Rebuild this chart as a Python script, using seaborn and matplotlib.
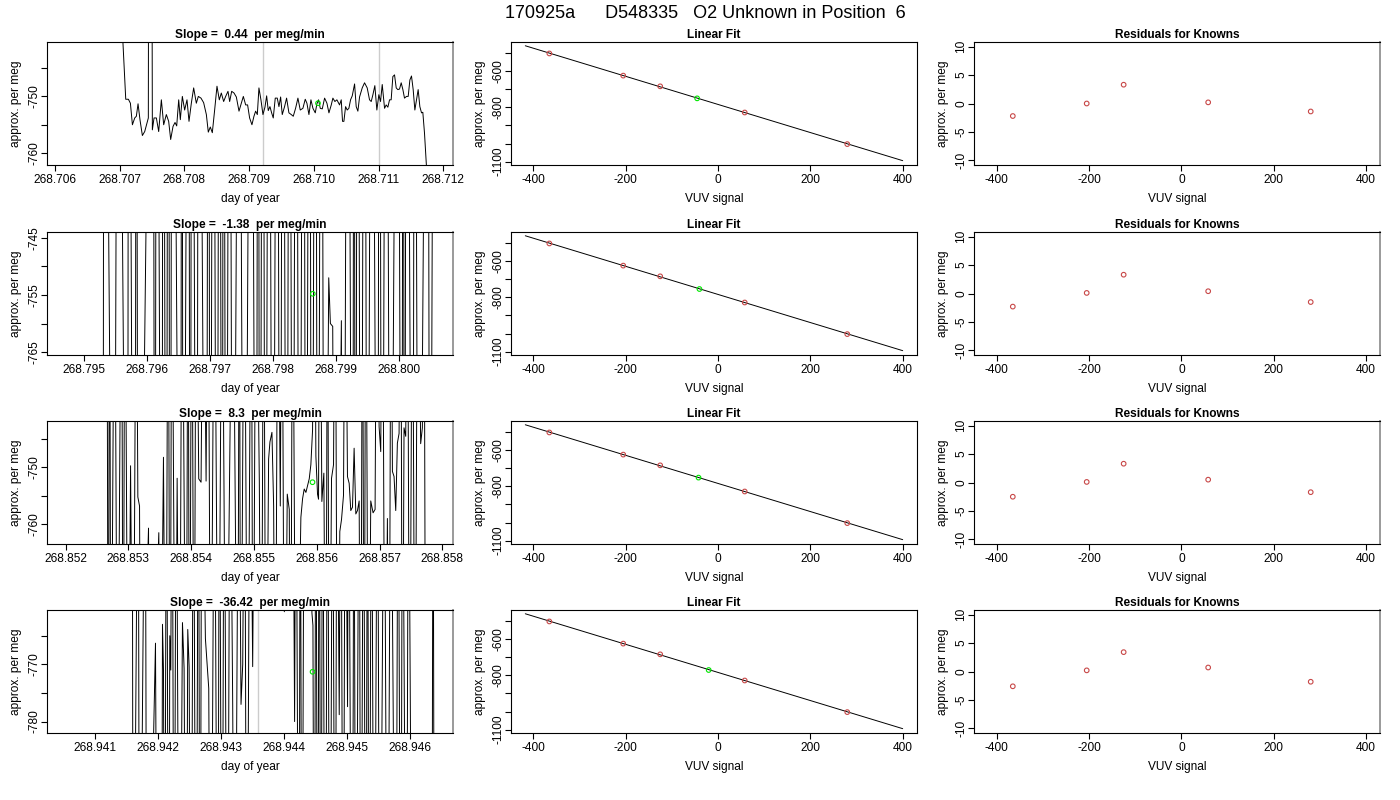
"""
Unknown-in-position diagnostic panels: raw trace, linear fit, residuals
"""

import matplotlib
matplotlib.use('Agg')
import matplotlib.pyplot as plt
import seaborn as sns

# ---------------------------------------------------------------- data
main_title = '170925a      D548335   O2 Unknown in Position  6'

slope_titles = ['Slope =  0.44  per meg/min', 'Slope =  -1.38  per meg/min',
                'Slope =  8.3  per meg/min', 'Slope =  -36.42  per meg/min']

# raw traces (day of year, approx. per meg)
t1 = [268.707029, 268.707096, 268.707137, 268.707168, 268.707199, 268.707235, 268.707260, 268.707286, 268.707317, 268.707353,
      268.707389, 268.707425, 268.707445, 268.707451, 268.707497, 268.707507, 268.707533, 268.707569, 268.707605, 268.707646,
      268.707682, 268.707723, 268.707759, 268.707790, 268.707826, 268.707857, 268.707883, 268.707914, 268.707939, 268.707970,
      268.708006, 268.708042, 268.708073, 268.708109, 268.708145, 268.708186, 268.708217, 268.708258, 268.708299, 268.708341,
      268.708371, 268.708402, 268.708433, 268.708469, 268.708505, 268.708541, 268.708572, 268.708608, 268.708639, 268.708675,
      268.708701, 268.708732, 268.708768, 268.708804, 268.708845, 268.708881, 268.708912, 268.708948, 268.708978, 268.709009,
      268.709045, 268.709076, 268.709102, 268.709128, 268.709153, 268.709184, 268.709215, 268.709246, 268.709272, 268.709297,
      268.709323, 268.709349, 268.709374, 268.709405, 268.709436, 268.709462, 268.709488, 268.709513, 268.709549, 268.709580,
      268.709616, 268.709652, 268.709683, 268.709719, 268.709755, 268.709791, 268.709832, 268.709868, 268.709894, 268.709925,
      268.709956, 268.709987, 268.710023, 268.710048, 268.710074, 268.710100, 268.710131, 268.710167, 268.710203, 268.710234,
      268.710270, 268.710295, 268.710326, 268.710357, 268.710398, 268.710424, 268.710444, 268.710465, 268.710491, 268.710516,
      268.710542, 268.710568, 268.710594, 268.710630, 268.710655, 268.710681, 268.710707, 268.710748, 268.710784, 268.710825,
      268.710861, 268.710887, 268.710913, 268.710943, 268.710974, 268.711005, 268.711031, 268.711057, 268.711093, 268.711118,
      268.711144, 268.711170, 268.711195, 268.711221, 268.711247, 268.711273, 268.711298, 268.711324, 268.711350, 268.711376,
      268.711401, 268.711432, 268.711458, 268.711484, 268.711509, 268.711535, 268.711561, 268.711586, 268.711612, 268.711638,
      268.711664, 268.711684, 268.711710, 268.711746]
v1 = [-735.0, -750.5, -750.5, -751.2, -755.0, -753.8, -753.5, -751.3, -754.2, -756.9,
      -756.2, -754.7, -753.8, -700.0, -700.0, -755.9, -753.8, -753.8, -756.2, -750.6,
      -755.0, -753.2, -754.4, -757.6, -755.3, -754.6, -755.2, -750.6, -754.1, -750.0,
      -752.4, -750.6, -754.4, -751.2, -748.5, -751.2, -750.0, -750.3, -751.1, -753.2,
      -756.3, -755.4, -756.4, -752.4, -748.2, -750.6, -749.4, -750.9, -750.0, -749.1,
      -750.9, -749.1, -749.4, -750.1, -752.6, -751.2, -750.0, -751.5, -751.5, -753.8,
      -755.0, -753.5, -752.6, -753.2, -748.5, -750.6, -753.2, -751.9, -749.9, -752.5,
      -751.8, -752.9, -753.8, -750.3, -750.3, -751.8, -750.1, -753.2, -751.8, -750.3,
      -752.9, -753.2, -753.5, -752.1, -750.3, -752.4, -752.1, -750.5, -751.2, -753.2,
      -750.6, -752.1, -752.9, -751.3, -750.6, -752.1, -752.2, -750.3, -751.2, -752.9,
      -751.5, -750.3, -750.9, -750.6, -751.5, -750.6, -754.4, -754.4, -751.8, -752.4,
      -752.1, -750.6, -749.9, -747.8, -751.8, -752.6, -750.1, -748.5, -747.6, -748.5,
      -750.6, -750.9, -749.7, -748.1, -752.4, -749.7, -750.9, -747.9, -752.1, -751.5,
      -751.9, -750.6, -750.6, -746.5, -746.2, -748.5, -748.8, -748.7, -747.6, -748.8,
      -750.3, -750.0, -750.0, -747.1, -746.4, -748.8, -752.4, -750.6, -748.8, -751.8,
      -752.9, -752.8, -756.5, -763.5]

t2 = [268.795306, 268.795322, 268.795480, 268.795543, 268.795696, 268.795712, 268.795796, 268.795823, 268.795833, 268.795865,
      268.796097, 268.796129, 268.796155, 268.796239, 268.796260, 268.796308, 268.796340, 268.796371, 268.796403, 268.796535,
      268.796556, 268.796577, 268.796661, 268.796688, 268.796714, 268.796793, 268.796820, 268.796941, 268.796978, 268.797004,
      268.797052, 268.797110, 268.797152, 268.797173, 268.797194, 268.797215, 268.797257, 268.797310, 268.797363, 268.797468,
      268.797500, 268.797547, 268.797653, 268.797732, 268.797764, 268.797790, 268.797837, 268.797880, 268.797932, 268.797996,
      268.798064, 268.798112, 268.798154, 268.798217, 268.798259, 268.798312, 268.798365, 268.798418, 268.798481, 268.798523,
      268.798576, 268.798613, 268.798671, 268.798708, 268.798766, 268.798813, 268.798882, 268.798908, 268.798945, 268.798987,
      268.799082, 268.799114, 268.799182, 268.799261, 268.799282, 268.799304, 268.799340, 268.799393, 268.799446, 268.799472,
      268.799493, 268.799562, 268.799657, 268.799683, 268.799725, 268.799789, 268.799831, 268.799852, 268.799973, 268.800037,
      268.800063, 268.800079, 268.800116, 268.800211, 268.800227, 268.800242, 268.800306, 268.800448, 268.800469, 268.800485,
      268.800553]
v2 = [-860, -640, -860, -640, -860, -640, -860, -763.8, -640, -860,
      -640, -860, -640, -860, -640, -860, -640, -860, -640, -860,
      -640, -860, -640, -860, -640, -860, -640, -860, -640, -860,
      -640, -860, -640, -757.5, -860, -640, -860, -640, -860, -640,
      -751.0, -860, -640, -860, -640, -860, -640, -860, -640, -860,
      -640, -860, -640, -860, -640, -860, -640, -860, -640, -860,
      -640, -860, -640, -860, -640, -860, -752.0, -760.0, -760.5, -860,
      -759.5, -860, -640, -860, -640, -860, -640, -860, -640, -752.5,
      -860, -640, -860, -640, -860, -640, -762.5, -860, -640, -860,
      -640, -860, -640, -860, -752.5, -640, -860, -640, -759.5, -860,
      -640]

t3 = [268.852657, 268.852678, 268.852700, 268.852721, 268.852779, 268.852806, 268.852827, 268.852890, 268.852917, 268.852943,
      268.852996, 268.853034, 268.853076, 268.853124, 268.853150, 268.853177, 268.853198, 268.853320, 268.853341, 268.853484,
      268.853505, 268.853558, 268.853595, 268.853632, 268.853664, 268.853691, 268.853749, 268.853776, 268.853813, 268.853855,
      268.853919, 268.853950, 268.853972, 268.854009, 268.854046, 268.854078, 268.854120, 268.854157, 268.854194, 268.854237,
      268.854268, 268.854311, 268.854369, 268.854433, 268.854491, 268.854555, 268.854661, 268.854740, 268.854767, 268.854788,
      268.854846, 268.854899, 268.854957, 268.854984, 268.855032, 268.855085, 268.855116, 268.855154, 268.855191, 268.855233,
      268.855254, 268.855286, 268.855313, 268.855339, 268.855381, 268.855419, 268.855445, 268.855487, 268.855530, 268.855562,
      268.855583, 268.855615, 268.855668, 268.855747, 268.855774, 268.855800, 268.855827, 268.855853, 268.855880, 268.855906,
      268.855933, 268.855959, 268.855986, 268.856012, 268.856028, 268.856049, 268.856081, 268.856113, 268.856145, 268.856171,
      268.856198, 268.856235, 268.856267, 268.856293, 268.856330, 268.856367, 268.856394, 268.856426, 268.856452, 268.856489,
      268.856516, 268.856542, 268.856569, 268.856595, 268.856622, 268.856648, 268.856675, 268.856701, 268.856728, 268.856754,
      268.856781, 268.856823, 268.856860, 268.856897, 268.856929, 268.856956, 268.856993, 268.857019, 268.857046, 268.857088,
      268.857125, 268.857152, 268.857183, 268.857205, 268.857231, 268.857258, 268.857284, 268.857311, 268.857337, 268.857364,
      268.857390, 268.857417, 268.857443, 268.857480, 268.857523, 268.857565, 268.857607, 268.857655, 268.857682, 268.857708,
      268.857735]
v3 = [-700, -810, -700, -810, -700, -761.2, -810, -700, -810, -700,
      -810, -749.7, -810, -700, -755.2, -756.8, -810, -760.7, -810, -761.5,
      -810, -748.2, -810, -700, -810, -700, -810, -751.9, -810, -700,
      -810, -700, -810, -700, -810, -700, -752.0, -752.6, -700, -752.4,
      -700, -810, -700, -810, -700, -810, -700, -810, -700, -810,
      -700, -810, -700, -810, -700, -752.5, -810, -700, -810, -748.5,
      -745.5, -743.8, -756.8, -810, -700, -756.8, -700, -810, -754.7, -757.4,
      -810, -700, -810, -758.8, -755.5, -753.8, -754.4, -753.2, -752.0, -749.5,
      -743.4, -700, -748.0, -754.7, -755.6, -700, -756.0, -751.0, -810, -700,
      -810, -751.9, -749.5, -700, -810, -761.3, -759.2, -754.9, -700, -751.6,
      -752.8, -757.6, -757.0, -746.6, -758.2, -757.6, -755.9, -810, -700, -810,
      -700, -810, -755.9, -758.0, -757.4, -700, -742.8, -747.2, -700, -810,
      -759.0, -810, -700, -750.7, -751.6, -757.6, -745.7, -744.0, -700, -810,
      -743.0, -744.5, -700, -810, -700, -810, -700, -745.8, -743.0, -700,
      -810]

t4 = [268.941597, 268.941612, 268.941692, 268.941713, 268.941803, 268.941829, 268.941966, 268.941998, 268.942061, 268.942077,
      268.942093, 268.942114, 268.942125, 268.942140, 268.942177, 268.942193, 268.942209, 268.942230, 268.942262, 268.942294,
      268.942346, 268.942394, 268.942420, 268.942452, 268.942478, 268.942500, 268.942531, 268.942568, 268.942610, 268.942647,
      268.942674, 268.942700, 268.942758, 268.942811, 268.942843, 268.942901, 268.942954, 268.942980, 268.943022, 268.943054,
      268.943107, 268.943149, 268.943191, 268.943223, 268.943286, 268.943323, 268.943350, 268.943381, 268.943413, 268.943466,
      268.943508, 268.943540, 268.943719, 268.943878, 268.944010, 268.944025, 268.944142, 268.944173, 268.944194, 268.944242,
      268.944263, 268.944289, 268.944326, 268.944406, 268.944448, 268.944464, 268.944485, 268.944511, 268.944538, 268.944564,
      268.944590, 268.944617, 268.944659, 268.944696, 268.944733, 268.944775, 268.944817, 268.944844, 268.944881, 268.944907,
      268.944944, 268.944976, 268.945013, 268.945029, 268.945081, 268.945103, 268.945113, 268.945145, 268.945198, 268.945224,
      268.945266, 268.945303, 268.945330, 268.945356, 268.945393, 268.945435, 268.945488, 268.945525, 268.945594, 268.945646,
      268.945699, 268.945778, 268.945815, 268.945858, 268.945884, 268.945947, 268.945979, 268.946042, 268.946349, 268.946370,
      268.946391]
v4 = [-720, -840, -720, -840, -720, -840, -766.3, -840, -840, -763.0,
      -771.0, -840, -779.6, -720, -840, -765.0, -771.0, -720, -840, -720,
      -840, -762.7, -770.7, -840, -763.9, -770.5, -840, -720, -840, -720,
      -840, -720, -765.5, -774.2, -840, -720, -840, -720, -840, -720,
      -840, -720, -777.1, -840, -720, -777.0, -770.0, -720, -840, -720,
      -770.4, -720, -720, -720, -760.8, -720, -720, -780.0, -720, -840,
      -720, -840, -720, -720, -761.0, -763.2, -840, -720, -840, -720,
      -840, -720, -840, -720, -840, -720, -840, -720, -778.8, -720,
      -840, -720, -777.4, -720, -840, -776.0, -720, -840, -720, -840,
      -720, -840, -720, -840, -720, -840, -720, -840, -720, -840,
      -720, -840, -720, -840, -720, -840, -720, -840, -840, -720,
      -840]

# green point on each trace (time, value)
unk_t = [268.710065, 268.798629, 268.855932, 268.944458]
unk_trace_y = [-751.2, -754.8, -752.6, -771.3]

# grey marker lines on the traces
grey_lines = [[268.70922, 268.71100], [], [], [268.943592]]

# linear fit panels
known_x = [-365, -205, -125, 58, 280]
known_y = [-504, -626, -685, -829, -1003]
unk_x = [-45, -40, -42, -20]
unk_y = [-751.2, -754.8, -752.6, -771.3]
fit_intercept = [-784.5, -784.5, -784.5, -784.5]
fit_slope = [-0.774, -0.774, -0.774, -0.774]
fit_x_range = [-417, 400]

# residuals for knowns
residuals = [[-2.2, 0.0, 3.3, 0.2, -1.4],
             [-2.3, 0.1, 3.3, 0.4, -1.5],
             [-2.5, 0.1, 3.3, 0.5, -1.7],
             [-2.6, 0.2, 3.4, 0.7, -1.8]]

# axis ranges and ticks of the trace panels
trace_xlim = [(268.70588, 268.71215), (268.79442, 268.80085),
              (268.851703, 268.858170), (268.940245, 268.946686)]
trace_ylim = [(-762.1, -740.4), (-765.5, -744.0), (-763.5, -741.8), (-782.0, -760.5)]
trace_xticks = [[268.706, 268.707, 268.708, 268.709, 268.710, 268.711, 268.712],
                [268.795, 268.796, 268.797, 268.798, 268.799, 268.800],
                [268.852, 268.853, 268.854, 268.855, 268.856, 268.857, 268.858],
                [268.941, 268.942, 268.943, 268.944, 268.945, 268.946]]
trace_yticks = [[-760, -755, -750, -745], [-765, -760, -755, -750, -745],
                [-760, -755, -750, -745], [-780, -775, -770, -765]]
trace_ylabels = [['-760', '', '-750', ''], ['-765', '', '-755', '', '-745'],
                 ['-760', '', '-750', ''], ['-780', '', '-770', '']]

fit_yticks = [-1100, -1000, -900, -800, -700, -600, -500]
fit_ylabels = ['-1100', '', '', '-800', '', '-600', '']
vuv_ticks = [-400, -200, 0, 200, 400]
resid_ticks = [-10, -5, 0, 5, 10]

traces = [(t1, v1), (t2, v2), (t3, v3), (t4, v4)]

# ---------------------------------------------------------------- style
sns.set_style('ticks')
plt.rcParams['font.family'] = ['Liberation Sans', 'DejaVu Sans']
plt.rcParams['text.color'] = 'black'
plt.rcParams['axes.labelcolor'] = 'black'

FS = 8.6
RED = '#c84848'
GREEN = '#00e600'
W, H = 1400, 800
col_left = [47, 511, 974]
row_top = [42, 232, 421, 610]
ax_w, ax_h = 406, 123

fig = plt.figure(figsize=(14, 8), dpi=100)
fig.text(705 / W, 1 - 13 / H, main_title, ha='center', va='center', fontsize=13)


def add_ax(col, row):
    return fig.add_axes([col_left[col] / W, 1 - (row_top[row] + ax_h) / H,
                         ax_w / W, ax_h / H])


def style_ax(ax, title, xlabel, ylabel, grey_right=False):
    ax.set_title(title, fontsize=FS, fontweight='bold', pad=3, color='black')
    ax.set_xlabel(xlabel, fontsize=FS, labelpad=5)
    ax.set_ylabel(ylabel, fontsize=FS, labelpad=4.5)
    for s in ax.spines.values():
        s.set_visible(True)
        s.set_linewidth(0.8)
        s.set_color('black')
    if grey_right:
        ax.spines['right'].set_color('#9a9a9a')
        ax.spines['right'].set_linewidth(1.4)
    ax.tick_params(direction='out', length=4, width=0.8, labelsize=FS, colors='black')
    ax.tick_params(axis='x', pad=2.5)
    ax.tick_params(axis='y', pad=1)


def open_points(ax, x, y, color):
    sns.scatterplot(x=x, y=y, ax=ax, marker='o', s=11, facecolors='none',
                    edgecolor=color, linewidth=0.8, zorder=4, legend=False)


for i in range(4):
    # raw trace
    ax = add_ax(0, i)
    t, v = traces[i]
    for g in grey_lines[i]:
        ax.axvline(g, color='#cccccc', linewidth=1, zorder=1)
    sns.lineplot(x=t, y=v, ax=ax, color='black', linewidth=0.7,
                 estimator=None, sort=False, zorder=2)
    open_points(ax, [unk_t[i]], [unk_trace_y[i]], GREEN)
    ax.set_xlim(*trace_xlim[i])
    ax.set_ylim(*trace_ylim[i])
    ax.set_xticks(trace_xticks[i], [f'{x:.3f}' for x in trace_xticks[i]])
    ax.set_yticks(trace_yticks[i], trace_ylabels[i], rotation=90, va='center')
    style_ax(ax, slope_titles[i], 'day of year', 'approx. per meg', grey_right=True)

    # linear fit
    ax = add_ax(1, i)
    fit_y = [fit_intercept[i] + fit_slope[i] * x for x in fit_x_range]
    sns.lineplot(x=fit_x_range, y=fit_y, ax=ax, color='black', linewidth=0.7,
                 estimator=None, sort=False)
    open_points(ax, known_x, known_y, RED)
    open_points(ax, [unk_x[i]], [unk_y[i]], GREEN)
    ax.set_xlim(-448, 431)
    ax.set_ylim(-1118, -441)
    ax.set_xticks(vuv_ticks, [str(x) for x in vuv_ticks])
    ax.set_yticks(fit_yticks, fit_ylabels, rotation=90, va='center')
    style_ax(ax, 'Linear Fit', 'VUV signal', 'approx. per meg')

    # residuals
    ax = add_ax(2, i)
    open_points(ax, known_x, residuals[i], RED)
    ax.set_xlim(-449, 430)
    ax.set_ylim(-10.8, 10.8)
    ax.set_xticks(vuv_ticks, [str(x) for x in vuv_ticks])
    ax.set_yticks(resid_ticks, [str(y) for y in resid_ticks], rotation=90, va='center')
    style_ax(ax, 'Residuals for Knowns', 'VUV signal', 'approx. per meg', grey_right=True)

fig.savefig('out.png', dpi=100)
